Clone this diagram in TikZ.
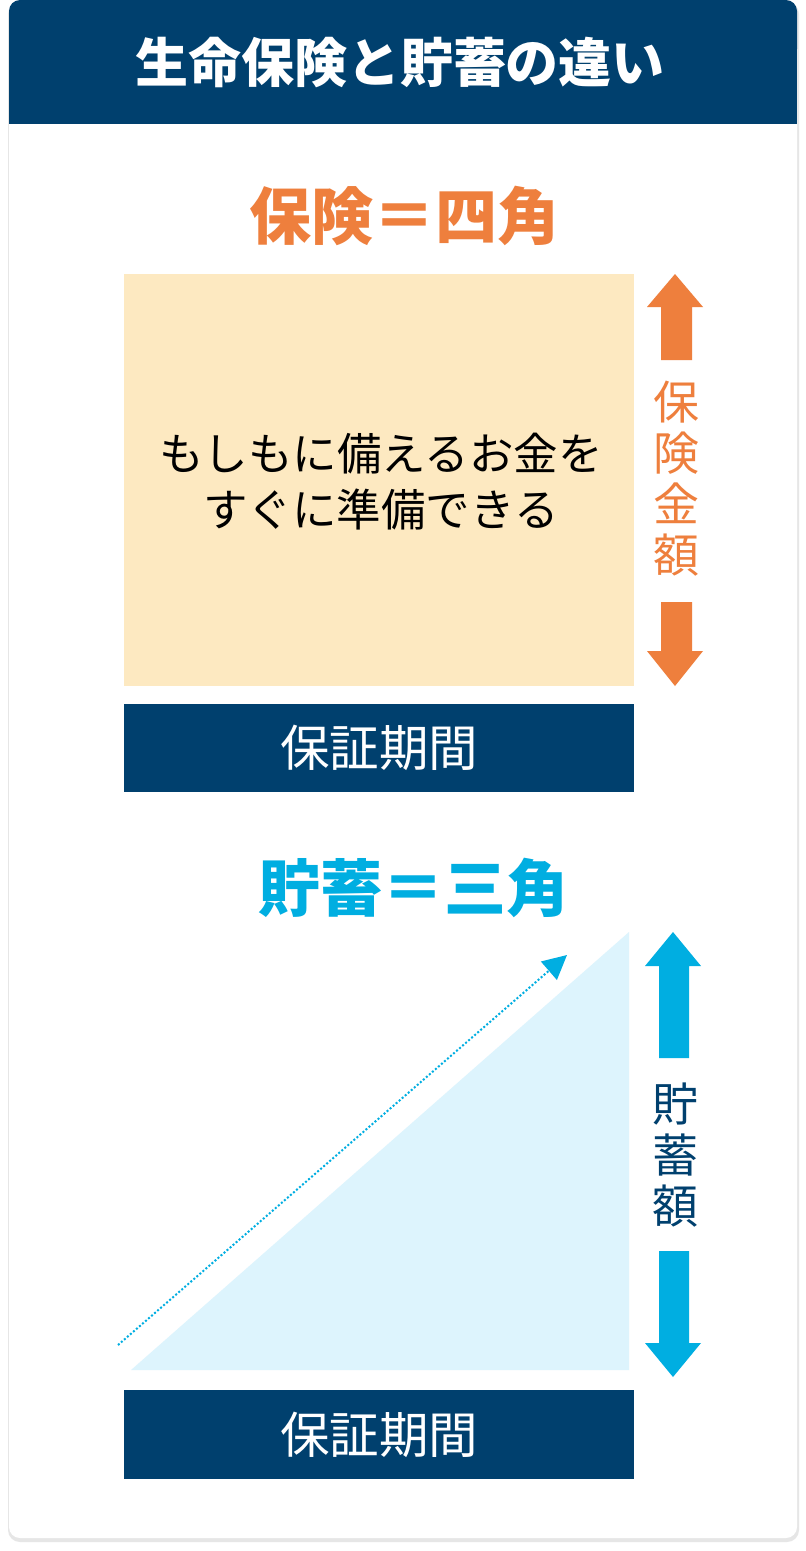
\documentclass[tikz,border=0pt]{standalone}
\usepackage{fontspec}
\setmainfont{Noto Sans CJK JP}
\newfontfamily\jp{Noto Sans CJK JP}
\usetikzlibrary{arrows.meta}
\definecolor{navy}{HTML}{00406E}
\definecolor{orng}{HTML}{EE7F3D}
\definecolor{lorng}{HTML}{FDE9C1}
\definecolor{cyanb}{HTML}{00AEE1}
\definecolor{lcyan}{HTML}{DDF4FD}
\definecolor{shad}{HTML}{E6E6E6}
\tikzset{
  lbl/.style={inner sep=0pt, font=\jp\fontsize{#1}{#1}\selectfont},
  navybar/.style={fill=navy, draw=none},
  vert/.style={inner sep=0pt, align=center, font=\jp\fontsize{46}{51}\selectfont},
}
\begin{document}
\begin{tikzpicture}[x=1pt,y=-1pt]
\useasboundingbox (0,0) rectangle (806,1551);
\fill[white] (0,0) rectangle (806,1551);
% card shadow and card
\fill[shad,rounded corners=12pt] (8,2) rectangle (799,1542);
\fill[white,rounded corners=11pt] (9,0) rectangle (797,1538);
% header
\fill[navy,rounded corners=11pt] (9,0) rectangle (797,60);
\fill[navy] (9,30) rectangle (797,124);
\node[lbl=53, text=white, font=\jp\bfseries\fontsize{53}{53}\selectfont] (title) at (400,62) {生命保険と貯蓄の違い};
% insurance section
\node[lbl=62, text=orng, font=\jp\bfseries\fontsize{62}{62}\selectfont] (ins) at (404,216) {保険＝四角};
\fill[lorng] (124,274) rectangle (634,686);
\node[lbl=44.5, align=center, font=\jp\fontsize{44.5}{56}\selectfont] (instext) at (381,482) {もしもに備えるお金を\\すぐに準備できる};
\fill[orng] (675,274) -- (703,307) -- (692,307) -- (692,360) -- (661,360) -- (661,307) -- (647,307) -- cycle;
\fill[orng] (675,686) -- (703,651) -- (692,651) -- (692,602) -- (661,602) -- (661,651) -- (647,651) -- cycle;
\node[vert, text=orng] (insamt) at (676,479) {保\\険\\金\\額};
\fill[navybar] (124,704) rectangle (634,792);
\node[lbl=49.5, text=white] (term1) at (379,748) {保証期間};
% savings section
\node[lbl=62, text=cyanb, font=\jp\bfseries\fontsize{62}{62}\selectfont] (sav) at (413,888) {貯蓄＝三角};
\fill[lcyan] (131,1370) -- (629,932) -- (629,1370) -- cycle;
\coordinate (ds) at (118,1345);
\coordinate (de) at (567,955);
\draw[cyanb, line width=2pt, dotted, -{Triangle[length=24pt,width=24pt]}] (ds) -- (de);
\fill[cyanb] (673,932) -- (701,966) -- (689,966) -- (689,1058) -- (659,1058) -- (659,966) -- (645,966) -- cycle;
\fill[cyanb] (673,1377) -- (701,1343) -- (689,1343) -- (689,1251) -- (659,1251) -- (659,1343) -- (645,1343) -- cycle;
\node[vert, text=navy] (savamt) at (675,1155) {貯\\蓄\\額};
\fill[navybar] (124,1390) rectangle (634,1479);
\node[lbl=49.5, text=white] (term2) at (379,1435) {保証期間};
\end{tikzpicture}
\end{document}
